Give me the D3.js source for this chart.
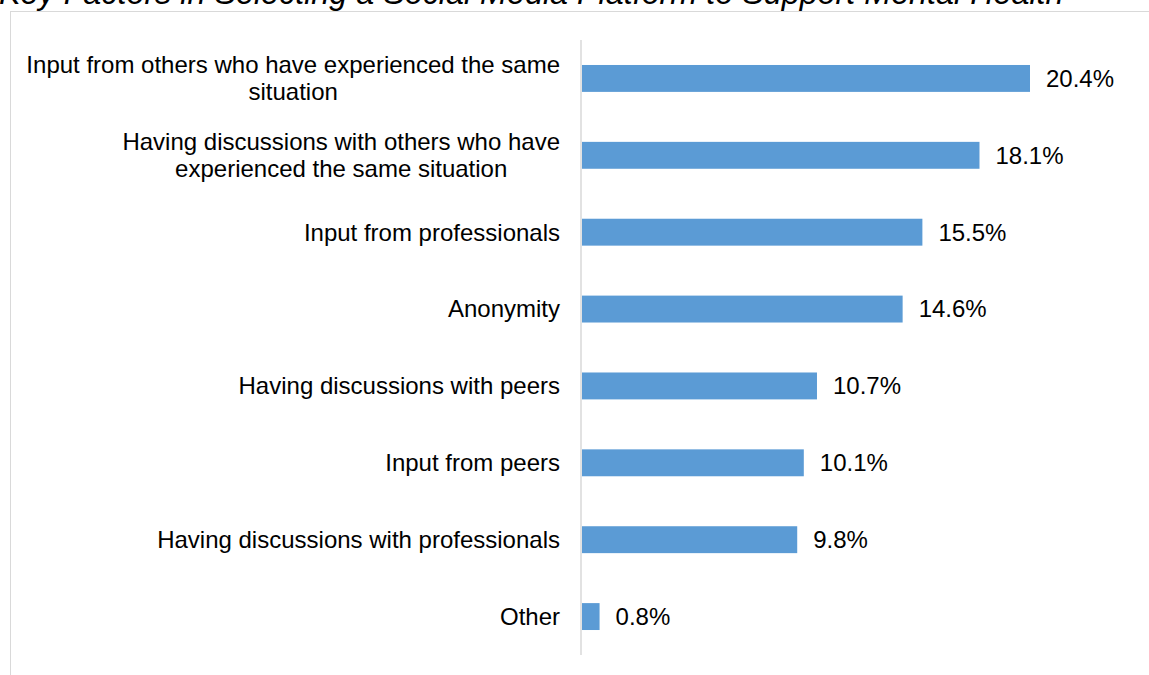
<!DOCTYPE html>
<html>
<head>
<meta charset="utf-8">
<script src="https://cdn.jsdelivr.net/npm/d3@7"></script>
<style>
  html, body { margin: 0; padding: 0; background: #fff; }
  svg { display: block; font-family: Arial, "Liberation Sans", sans-serif; }
</style>
</head>
<body>
<svg id="chart" width="1149" height="675"></svg>
<script>
// Survey answers, top to bottom
const categories = [
  ["Input from others who have experienced the same", "situation"],
  ["Having discussions with others who have", "experienced the same situation"],
  ["Input from professionals"],
  ["Anonymity"],
  ["Having discussions with peers"],
  ["Input from peers"],
  ["Having discussions with professionals"],
  ["Other"]
];
const values = [20.4, 18.1, 15.5, 14.6, 10.7, 10.1, 9.8, 0.8];
const valueLabels = ["20.4%", "18.1%", "15.5%", "14.6%", "10.7%", "10.1%", "9.8%", "0.8%"];
const titleText = "Key Factors in Selecting a Social Media Platform to Support Mental Health";

const svg = d3.select("#chart");
const keys = categories.map((c, i) => i);

// chart frame
svg.append("rect")
  .attr("x", 10.5).attr("y", 11.5)
  .attr("width", 1200).attr("height", 700)
  .attr("fill", "#fff").attr("stroke", "#d9d9d9").attr("stroke-width", 1);

// title, clipped at the top edge
svg.append("text")
  .attr("x", -1).attr("y", 4)
  .attr("font-size", 32.3).attr("font-style", "italic")
  .attr("fill", "#000")
  .text(titleText);

const x = d3.scaleLinear().domain([0, 20.4]).range([582, 1030]);
const y = d3.scaleBand().domain(keys).range([40, 655]).paddingInner(0.65).paddingOuter(0.325);

// bars
svg.append("g").selectAll("rect").data(values).join("rect")
  .attr("x", x(0))
  .attr("y", (d, i) => y(i))
  .attr("width", d => x(d) - x(0))
  .attr("height", y.bandwidth())
  .attr("fill", "#5b9bd5");

// vertical category axis line
const axis = d3.axisLeft(y).tickSize(0).tickFormat("");
const ag = svg.append("g").attr("transform", "translate(581,0)").call(axis);
ag.select(".domain").attr("stroke", "#d9d9d9").attr("stroke-width", 1.5)
  .attr("d", "M0,40V655");

// category labels: block right-aligned to the axis, wrapped lines centred within it
const lineH = 27;
const labelRight = 560;
const lab = svg.append("g").attr("font-size", 24).attr("fill", "#000");
categories.forEach((lines, i) => {
  const cy = y(i) + y.bandwidth() / 2;
  const t = lab.append("text")
    .attr("y", cy - (lines.length - 1) * lineH / 2);
  const spans = lines.map((ln, j) =>
    t.append("tspan").attr("dy", j === 0 ? "0.35em" : lineH).text(ln));
  const maxW = d3.max(spans, s => s.node().getComputedTextLength());
  const cx = labelRight - maxW / 2;
  t.attr("text-anchor", "middle");
  spans.forEach(s => s.attr("x", cx));
});

// value labels
svg.append("g").attr("font-size", 24).attr("fill", "#000")
  .selectAll("text").data(values).join("text")
  .attr("x", d => x(d) + 16)
  .attr("y", (d, i) => y(i) + y.bandwidth() / 2)
  .attr("dy", "0.35em")
  .text((d, i) => valueLabels[i]);
</script>
</body>
</html>
